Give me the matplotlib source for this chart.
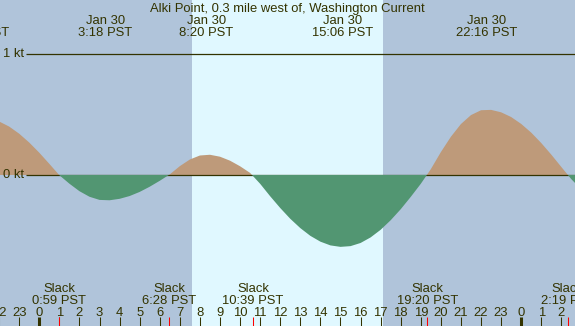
import numpy as np
import matplotlib.pyplot as plt

# Alki Point current, Jan 30 (hours from Jan 30 00:00 PST)
sample_hours = np.arange(-2.0, 27.5, 0.5)
speed_kt = [0.442, 0.400, 0.341, 0.268, 0.184, 0.092, -0.002, -0.072, -0.134, -0.180,
            -0.206, -0.209, -0.197, -0.174, -0.140, -0.097, -0.048, 0.005, 0.073, 0.128,
            0.161, 0.167, 0.151, 0.118, 0.072, 0.017, -0.073, -0.176, -0.273, -0.362,
            -0.439, -0.503, -0.551, -0.582, -0.594, -0.588, -0.562, -0.516, -0.453, -0.374,
            -0.283, -0.181, -0.073, 0.048, 0.189, 0.316, 0.421, 0.495, 0.535, 0.538,
            0.518, 0.479, 0.422, 0.350, 0.264, 0.168, 0.066, -0.035, -0.120]

# max flood / max ebb events (label at top)
peak_times = ["20:59", "3:18", "8:20", "15:06", "22:16"]
peak_days = [-1, 0, 0, 0, 0]
peak_dates = ["Jan 29", "Jan 30", "Jan 30", "Jan 30", "Jan 30"]

# slack water events (label at bottom)
slack_times = ["0:59", "6:28", "10:39", "19:20", "2:19"]
slack_days = [0, 0, 0, 0, 1]

sunrise, sunset = "7:36", "17:07"


def to_hours(s, day=0):
    h, m = s.split(":")
    return day * 24 + int(h) + int(m) / 60


ink = '#333300'
night = '#b0c4da'
day = '#e0f8ff'
flood = '#be9a7a'
ebb = '#529672'

fig = plt.figure(figsize=(5.75, 3.26), dpi=100)
ax = fig.add_axes([0, 0, 1, 1])
plt.rcParams['font.family'] = ['Liberation Sans', 'DejaVu Sans']
fs = 9.4

x0, x1 = -1.957, 26.68
ax.set_xlim(x0, x1)
ax.set_ylim(-1.248, 1.446)
ax.axis('off')

ax.axvspan(x0, x1, color=night, lw=0, zorder=0)
ax.axvspan(to_hours(sunrise), to_hours(sunset), color=day, lw=0, zorder=0)

v = np.array(speed_kt)
ax.fill_between(sample_hours, v, 0, where=v >= 0, interpolate=True,
                color=flood, lw=0, zorder=2)
ax.fill_between(sample_hours, v, 0, where=v <= 0, interpolate=True,
                color=ebb, lw=0, zorder=4)

# reference lines
ax.hlines([0, 1], -0.66, x1, color=ink, lw=0.9, zorder=3)
ax.text(-0.74, 1, "1 kt", color=ink, fontsize=fs, ha='right', va='center')
ax.text(-0.74, 0, "0 kt", color=ink, fontsize=fs, ha='right', va='center')

tr = ax.get_xaxis_transform()
ax.text(0.5, 1 - 11.7 / 326, "Alki Point, 0.3 mile west of, Washington Current",
        transform=ax.transAxes, ha='center', va='baseline', color=ink, fontsize=fs)

for t, d, date in zip(peak_times, peak_days, peak_dates):
    h = to_hours(t, d)
    ax.text(h, 1 - 24 / 326, date, transform=tr, ha='center', va='baseline',
            color=ink, fontsize=fs)
    ax.text(h, 1 - 36 / 326, t + " PST", transform=tr, ha='center', va='baseline',
            color=ink, fontsize=fs)

for t, d in zip(slack_times, slack_days):
    h = to_hours(t, d)
    ax.text(h, 1 - 291.7 / 326, "Slack", transform=tr, ha='center', va='baseline',
            color=ink, fontsize=fs)
    ax.text(h, 1 - 304.3 / 326, t + " PST", transform=tr, ha='center', va='baseline',
            color=ink, fontsize=fs)

# hour ticks
tick_top = 1 - 317 / 326
for hr in range(-2, 27):
    lw = 2.2 if hr % 24 == 0 else 0.75
    ax.plot([hr, hr], [0, tick_top], transform=tr, color=ink, lw=lw,
            solid_capstyle='butt', zorder=5)
    ax.text(hr, 1 - 315.7 / 326, str(hr % 24), transform=tr, ha='center',
            va='baseline', color=ink, fontsize=fs)
for t, d in zip(slack_times, slack_days):
    h = to_hours(t, d)
    ax.plot([h, h], [0, tick_top], transform=tr, color='red', lw=0.75,
            solid_capstyle='butt', zorder=6)

fig.savefig('out.png', dpi=100)
